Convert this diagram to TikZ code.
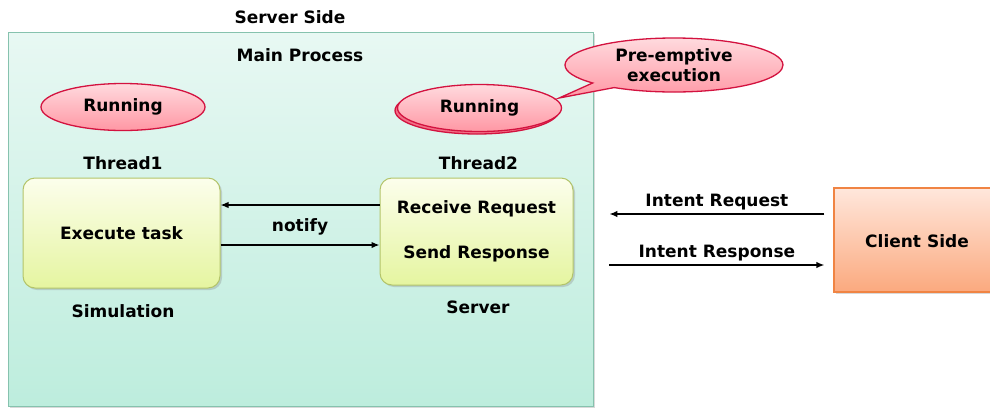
\documentclass[tikz,border=0pt]{standalone}
\usepackage{fontspec}
\setmainfont{DejaVu Sans}
\usetikzlibrary{calc,arrows.meta,shapes.geometric,shapes.callouts,shadows}

\definecolor{mintTop}{HTML}{E8F8F3}
\definecolor{mintBot}{HTML}{BDEDDD}
\definecolor{mintEdge}{HTML}{86C2AE}
\definecolor{runTop}{HTML}{FFDADE}
\definecolor{runBot}{HTML}{FF97A4}
\definecolor{runEdge}{HTML}{D3123F}
\definecolor{taskTop}{HTML}{FCFEEC}
\definecolor{taskBot}{HTML}{E5F5A0}
\definecolor{taskEdge}{HTML}{B3C46A}
\definecolor{cliTop}{HTML}{FFE7DC}
\definecolor{cliBot}{HTML}{FBA97E}
\definecolor{cliEdge}{HTML}{F08443}

\begin{document}
\begin{tikzpicture}[x=1pt,y=-1pt,
	every node/.style={font=\fontsize{17}{20}\selectfont\bfseries},
	title/.style={inner sep=2pt},
	shade/.style={drop shadow={shadow xshift=2pt,shadow yshift=-2pt,opacity=0.3}},
	proc/.style={draw=mintEdge, line width=1pt, top color=mintTop, bottom color=mintBot, minimum width=585, minimum height=374, shade},
	run/.style={ellipse, draw=runEdge, line width=1.3pt, top color=runTop, bottom color=runBot, minimum width=164, minimum height=47, inner sep=0},
	runback/.style={ellipse, draw=runEdge, line width=1.3pt, fill=runBot!70!runEdge, minimum width=164, minimum height=47, inner sep=0},
	task/.style={draw=taskEdge, line width=1pt, rounded corners=12pt, top color=taskTop, bottom color=taskBot, align=center, shade},
	client/.style={draw=cliEdge, line width=1.2pt, top color=cliTop, bottom color=cliBot, minimum width=158, minimum height=104, shade},
	bubble/.style={ellipse callout, draw=runEdge, line width=1.3pt, top color=runTop, bottom color=runBot, align=center, minimum width=218, minimum height=54, inner sep=0},
	link/.style={->, line width=1.4pt}]
	\tikzset{>={Latex[length=8pt,width=6.5pt]}}
	\useasboundingbox (0,0) rectangle (990,408);

	% server side
	\node [title] (side) at (290,17) {Server Side};
	\node [proc] (proc) at (300.5,219) {};
	\node [title] (main) at (300,55) {Main Process};

	% the two threads
	\node [run] (run1) at (123,107) {Running};
	\node [runback] (runshade) at (477,110.5) {};
	\node [run] (run2) at ($(runshade)+(2.5,-2.5)$) {Running};
	\node [title] (thr1) at ($(run1)+(0,56)$) {Thread1};
	\node [title] (thr2) at ($(run2)+(-1,55)$) {Thread2};
	\node [task, minimum width=197, minimum height=110] (exec) at (121.5,233) {Execute task};
	\node [task, minimum width=193, minimum height=107] (srv) at (476.5,231.5) {Receive Request\\[25pt]Send Response};
	\node [title] (sim) at ($(exec)+(1.5,78)$) {Simulation};
	\node [title] (srvname) at ($(srv)+(1.5,75.5)$) {Server};

	\node [bubble, callout absolute pointer={($(run2.east)+(-3,-10)$)}] (pre) at (674,65) {Pre-emptive\\execution};

	% client side
	\node [client] (cli) at (913,240) {};
	\node (clitext) at ($(cli)+(4,1)$) {Client Side};

	\draw [link] ([yshift=26.5pt]srv.west) -- ([yshift=26.5pt]srv.west -| exec.east);
	\draw [link] ([yshift=-12pt]exec.east) -- ([yshift=-12pt]exec.east -| srv.west);
	\node (notify) at (300,227) {notify};

	\draw [link] ([xshift=-9pt,yshift=26pt]cli.west) -- ++(-215,0) node [midway, above] {Intent Request};
	\draw [link] ([xshift=-224pt,yshift=-25pt]cli.west) -- ++(215,0) node [midway, above] {Intent Response};
\end{tikzpicture}
\end{document}
